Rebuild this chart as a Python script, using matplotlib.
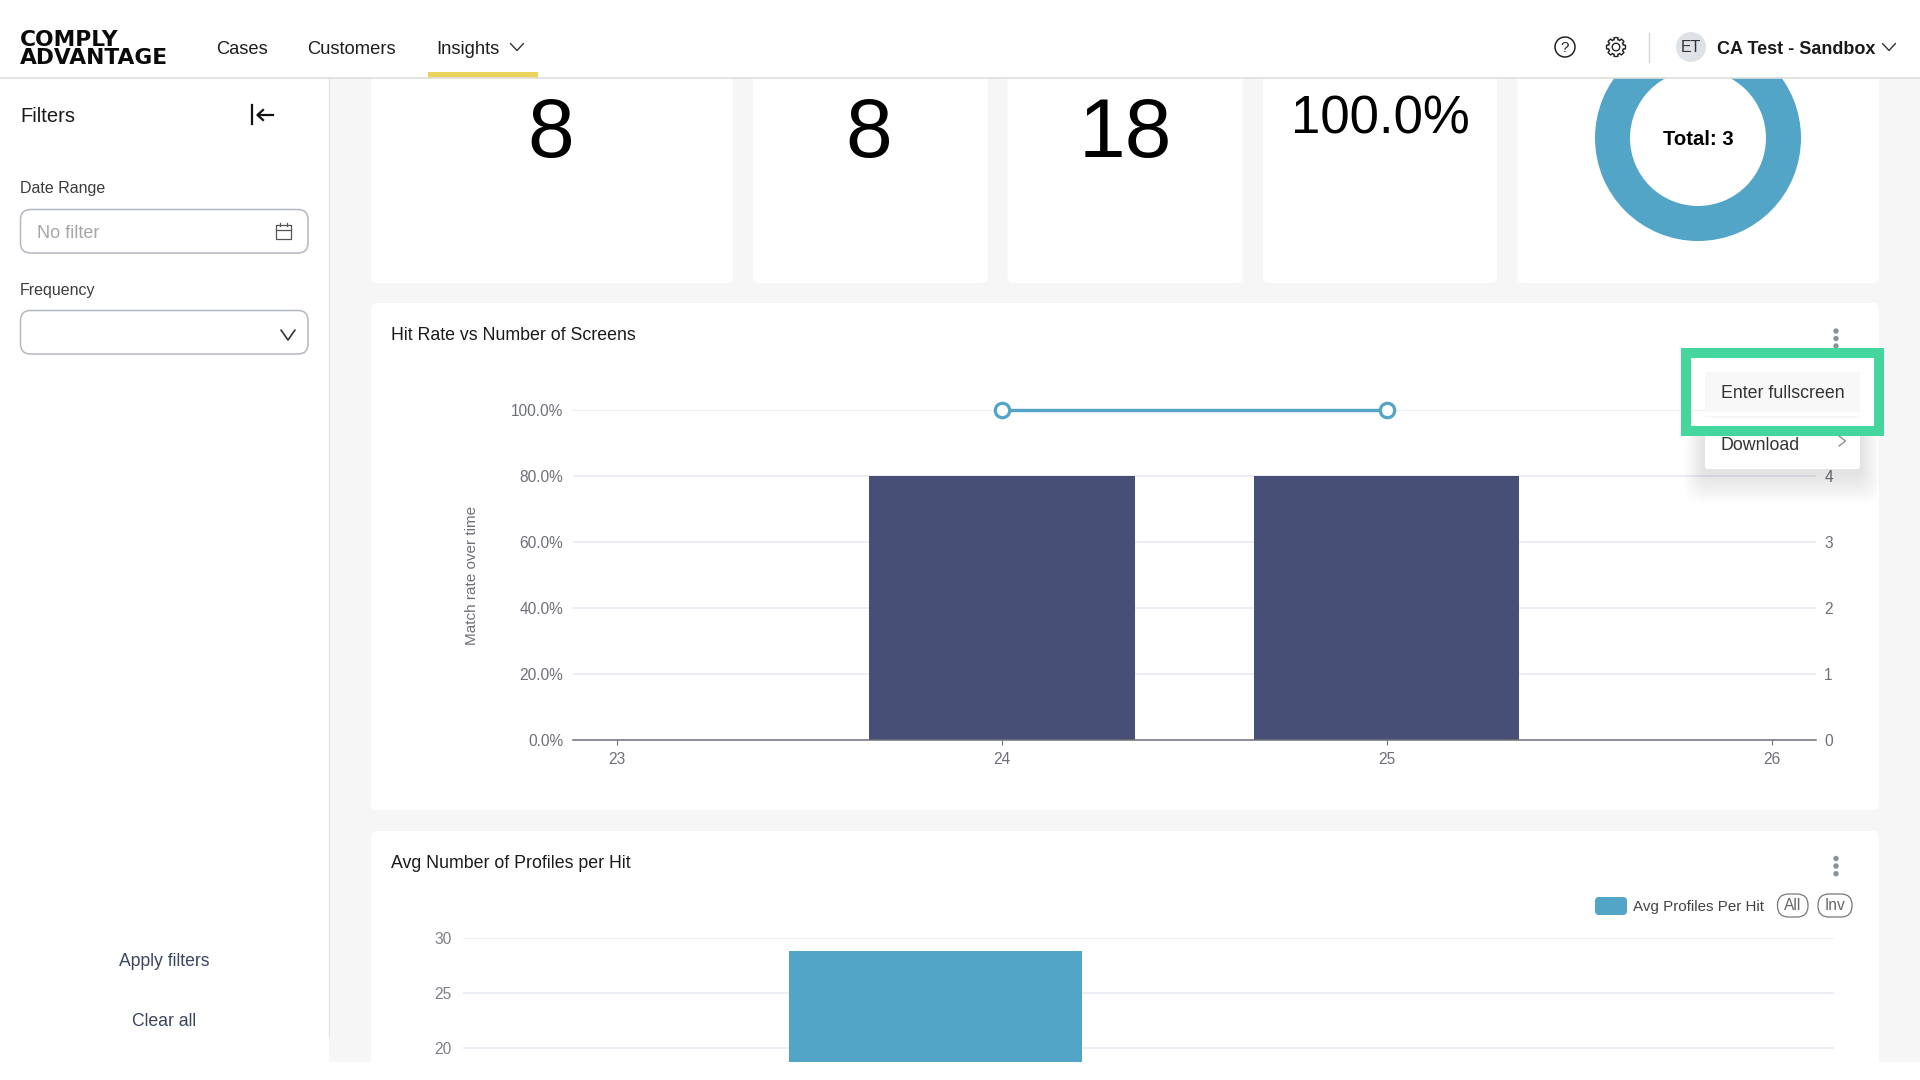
import numpy as np
import matplotlib
matplotlib.use("Agg")
import matplotlib.pyplot as plt
from matplotlib.patches import FancyBboxPatch, Rectangle, Circle, Polygon

# ---- data ----
kpi_values = ["8", "8", "18"]
kpi_rate = "100.0%"
donut_values = [3]
donut_total = "Total: 3"

screen_labels = [23, 24, 25, 26]
screens = [0, 4, 4, 0]
hit_rate_x = [24, 25]
hit_rate = [100.0, 100.0]
rate_ticks = [0, 20, 40, 60, 80, 100]
count_ticks = [0, 1, 2, 3, 4, 5]

profile_positions = [0]
avg_profiles = [28.8]
profile_ticks = [20, 25, 30]

nav_items = ["Cases", "Customers", "Insights"]

# ---- colours ----
BG = "#F6F6F6"
GRID = "#E6EAF3"
AXIS = "#6E7079"
NAVY = "#474F77"
BLUE = "#52A5C6"
GREEN = "#45D69D"

plt.rcParams["font.family"] = ["Liberation Sans", "DejaVu Sans"]
W, H = 1920, 1080
fig = plt.figure(figsize=(19.2, 10.8), dpi=100, facecolor="white")


def px(p):
    return p * 0.72


def pixel_axes(l, t, r, b, **kw):
    return fig.add_axes([l / W, 1 - b / H, (r - l) / W, (b - t) / H], **kw)


def full_axes(z):
    a = fig.add_axes([0, 0, 1, 1], zorder=z)
    a.set_xlim(0, W)
    a.set_ylim(H, 0)
    a.axis("off")
    a.patch.set_visible(False)
    return a


def rbox(a, x0, y0, x1, y1, r=6, fc="white", ec="none", lw=0, **kw):
    p = FancyBboxPatch((x0, y0), x1 - x0, y1 - y0, boxstyle=f"round,pad=0,rounding_size={r}",
                       fc=fc, ec=ec, lw=lw, **kw)
    a.add_patch(p)
    return p


# ---- page background and cards ----
base = full_axes(0)
base.add_patch(Rectangle((329, 78), W - 329, 1000, fc=BG, ec="none"))
for x0, x1 in [(371, 733), (753, 987.5), (1007.5, 1242.5), (1263, 1497), (1517.5, 1879)]:
    rbox(base, x0, 60, x1, 283)
rbox(base, 371, 303, 1879, 810)
rbox(base, 371, 831, 1879, 1100)
base.plot([329, 329], [78, 1036], color="#E4E4E4", lw=1)

# KPI numbers
for cx, s in zip([551, 869, 1125.5], kpi_values):
    base.text(cx, 135, s, fontsize=px(84), ha="center", va="center", color="black")
base.text(1380.5, 120, kpi_rate, fontsize=px(52.8), ha="center", va="center", color="black")

# ---- donut ----
axd = pixel_axes(1595, 35, 1801, 241, zorder=1)
axd.pie(donut_values, colors=[BLUE], radius=1, startangle=90,
        wedgeprops=dict(width=0.34, edgecolor="none"))
axd.set_xlim(-1, 1)
axd.set_ylim(-1, 1)
axd.patch.set_visible(False)
axd.text(0, -0.015, donut_total, fontsize=px(20.3), fontweight="bold", ha="center", va="center", color="black")

# ---- main chart ----
ax2 = pixel_axes(573, 410.3, 1816, 740.3, zorder=1)
ax1 = ax2.twinx()
ax2.yaxis.tick_right()
ax1.yaxis.tick_left()
ax1.yaxis.set_label_position("left")
ax1.set_zorder(2)
ax1.patch.set_visible(False)
ax2.patch.set_visible(False)

ax2.bar(screen_labels, screens, width=0.69, color=NAVY, zorder=3)
ax2.set_ylim(0, 5)
ax2.set_yticks(count_ticks)
ax2.grid(axis="y", color=GRID, lw=1.1)
ax2.set_axisbelow(True)
ax2.tick_params(axis="y", length=0, pad=6, labelsize=px(15.5), labelcolor=AXIS)
ax2.xaxis.set_visible(False)

ax1.plot(hit_rate_x, hit_rate, color=BLUE, lw=2.4, marker="o", ms=10.4, mfc="white", mec=BLUE, mew=2.3,
         clip_on=False, zorder=5)
ax1.set_ylim(0, 100)
ax1.set_yticks(rate_ticks)
ax1.set_yticklabels([f"{v:.1f}%" for v in rate_ticks])
ax1.set_xlim(22.8855, 26.1155)
ax1.xaxis.set_visible(True)
ax1.xaxis.set_ticks_position("bottom")
ax1.set_xticks(screen_labels)
ax1.set_xticklabels([str(v) for v in screen_labels])
ax1.tick_params(axis="y", length=0, pad=7, labelsize=px(15.5), labelcolor=AXIS)
ax1.tick_params(axis="x", length=3.6, width=0.8, color=AXIS, pad=5, labelsize=px(15.5), labelcolor=AXIS)
ax1.set_ylabel("Match rate over time", fontsize=px(15.3), color=AXIS, labelpad=0)
ax1.yaxis.set_label_coords((479 - 573) / (1816 - 573), 0.5)
for s in ["top", "left", "right"]:
    ax1.spines[s].set_visible(False)
    ax2.spines[s].set_visible(False)
ax2.spines["bottom"].set_visible(False)
ax1.spines["bottom"].set_color(AXIS)
ax1.spines["bottom"].set_linewidth(1.1)

# ---- lower chart ----
ax3 = pixel_axes(463, 938, 1834, 1062, zorder=1)
ax3.bar(profile_positions, avg_profiles, width=1.0, color=BLUE, zorder=3)
ax3.set_xlim(-1.6135, 3.0657)
ax3.set_ylim(18.727, 30)
ax3.set_yticks(profile_ticks)
ax3.set_xticks([])
ax3.grid(axis="y", color=GRID, lw=1.1)
ax3.set_axisbelow(True)
ax3.patch.set_visible(False)
ax3.tick_params(axis="y", length=0, pad=8, labelsize=px(15.5), labelcolor="#7E8088")
for s in ax3.spines.values():
    s.set_visible(False)

# ---- chrome drawn over the charts ----
ui = full_axes(5)

# white strip below the screenshot page
ui.add_patch(Rectangle((0, 1062), W, 18, fc="white", ec="none"))
ui.add_patch(Rectangle((0, 1036), 329, 30, fc="white", ec="none"))

# header
ui.add_patch(Rectangle((0, 0), W, 78, fc="white", ec="none"))
ui.plot([0, W], [78, 78], color="#DEDEDA", lw=1.2)
ui.add_patch(Rectangle((427.5, 72), 110.5, 5.5, fc="#EBD35E", ec="none"))
ui.text(20, 39.5, "COMPLY", fontsize=px(21.8), fontweight="bold", family="DejaVu Sans", ha="left", va="center", color="#0A0A0A")
ui.text(20, 58, "ADVANTAGE", fontsize=px(21.8), fontweight="bold", family="DejaVu Sans", ha="left", va="center", color="#0A0A0A")
for x, s in zip([216.5, 307.5, 436.5], nav_items):
    ui.text(x, 49, s, fontsize=px(18.4), ha="left", va="center", color="#1E1E1E")


def chevron(a, cx, cy, w, h, color="#333333", lw=1.0):
    a.plot([cx - w / 2, cx, cx + w / 2], [cy - h / 2, cy + h / 2, cy - h / 2], color=color, lw=lw,
           solid_capstyle="round", solid_joinstyle="round")


chevron(ui, 517, 47, 13, 7)
chevron(ui, 1889, 47, 13, 7)

# help icon
ui.add_patch(Circle((1565, 47), 10, fc="none", ec="#222222", lw=1.1))
ui.text(1565, 48, "?", fontsize=px(15), ha="center", va="center", color="#222222")
# gear icon
ang = np.linspace(0, 2 * np.pi, 97)
rad = 9.5 - 2.0 * (np.cos(8 * ang) < -0.1)
ui.add_patch(Polygon(np.c_[1616 + rad * np.cos(ang), 47 + rad * np.sin(ang)], closed=True, fc="none", ec="#222222", lw=1.0))
ui.add_patch(Circle((1616, 47), 3.8, fc="none", ec="#222222", lw=1.0))
ui.plot([1649, 1649], [33, 62], color="#D5D7DB", lw=1)
ui.add_patch(Circle((1691, 47), 15, fc="#DEE1E6", ec="none"))
ui.text(1691, 48, "ET", fontsize=px(16), ha="center", va="center", color="#333333")
ui.text(1717, 49, "CA Test - Sandbox", fontsize=px(18), fontweight="bold", ha="left", va="center", color="#1A1A1A")

# sidebar
ui.text(20, 117, "Filters", fontsize=px(20.2), ha="left", va="center", color="#1A1A1A")
ui.plot([252, 252], [105, 124], color="#111111", lw=1.6)
ui.plot([258, 273], [115, 115], color="#111111", lw=1.6)
ui.plot([263, 257.5, 263], [110, 115, 120], color="#111111", lw=1.6)
ui.text(20, 188, "Date Range", fontsize=px(16), ha="left", va="center", color="#3C3C3C")
rbox(ui, 20.5, 209.5, 308, 253, r=10, fc="white", ec="#B4B8C0", lw=1.1)
ui.text(37, 233, "No filter", fontsize=px(18), ha="left", va="center", color="#A6A6A6")
ui.add_patch(Rectangle((275.5, 225), 15, 14, fc="none", ec="#555555", lw=0.9))
ui.plot([275.5, 290.5], [229.5, 229.5], color="#555555", lw=0.9)
ui.plot([279.5, 279.5], [223, 226], color="#555555", lw=0.9)
ui.plot([286.5, 286.5], [223, 226], color="#555555", lw=0.9)
ui.text(20, 290, "Frequency", fontsize=px(16), ha="left", va="center", color="#3C3C3C")
rbox(ui, 20.5, 310.5, 308, 354, r=10, fc="white", ec="#B4B8C0", lw=1.1)
chevron(ui, 288, 335, 14, 10, color="#333333", lw=1.2)
ui.text(164, 961.5, "Apply filters", fontsize=px(17.6), ha="center", va="center", color="#3A4560")
ui.text(164, 1022, "Clear all", fontsize=px(17.6), ha="center", va="center", color="#3A4560")

# card titles and kebab menus
ui.text(391, 336, "Hit Rate vs Number of Screens", fontsize=px(17.8), ha="left", va="center", color="#1A1A1A")
ui.text(391, 863, "Avg Number of Profiles per Hit", fontsize=px(17.8), ha="left", va="center", color="#1A1A1A")
for y in (331, 338.5, 346):
    ui.add_patch(Circle((1836, y), 2.7, fc="#8A9299", ec="none"))
for y in (858.5, 866, 873.7):
    ui.add_patch(Circle((1836, y), 2.7, fc="#8A9299", ec="none"))

# legend of the lower chart
rbox(ui, 1595, 897, 1627, 915, r=4, fc=BLUE)
ui.text(1633, 906.5, "Avg Profiles Per Hit", fontsize=px(15.1), ha="left", va="center", color="#444444")
rbox(ui, 1777.5, 894, 1808, 917, r=11, fc="white", ec="#777777", lw=0.9)
ui.text(1793, 905.5, "All", fontsize=px(15.5), ha="center", va="center", color="#666666")
rbox(ui, 1818, 894, 1852, 917, r=11, fc="white", ec="#777777", lw=0.9)
ui.text(1835, 905.5, "Inv", fontsize=px(15.5), ha="center", va="center", color="#666666")

# pop-up menu with soft shadow, mostly below
for i in range(14, 0, -1):
    rbox(ui, 1705 - i * 1.5, 430, 1860 + i * 1.5, 469 + 4 + i * 2.2, r=6 + i, fc="black", alpha=0.006)
rbox(ui, 1705, 367, 1860, 469, r=3, fc="white")
ui.add_patch(Rectangle((1705, 372), 155, 40, fc="#F8F8F8", ec="none"))
ui.add_patch(Rectangle((1705, 416), 155, 2, fc="#F8F8F8", ec="none"))
ui.text(1721, 393.5, "Enter fullscreen", fontsize=px(17.8), ha="left", va="center", color="#333333")
ui.text(1721, 445.5, "Download", fontsize=px(17.8), ha="left", va="center", color="#333333")
ui.plot([1839, 1845.5, 1839], [436, 441, 446], color="#888888", lw=0.9)

# green highlight frame
ui.add_patch(Rectangle((1686, 353), 192.5, 78, fc="none", ec=GREEN, lw=px(10), joinstyle="miter"))

fig.savefig("out.png", dpi=100, facecolor="white")
